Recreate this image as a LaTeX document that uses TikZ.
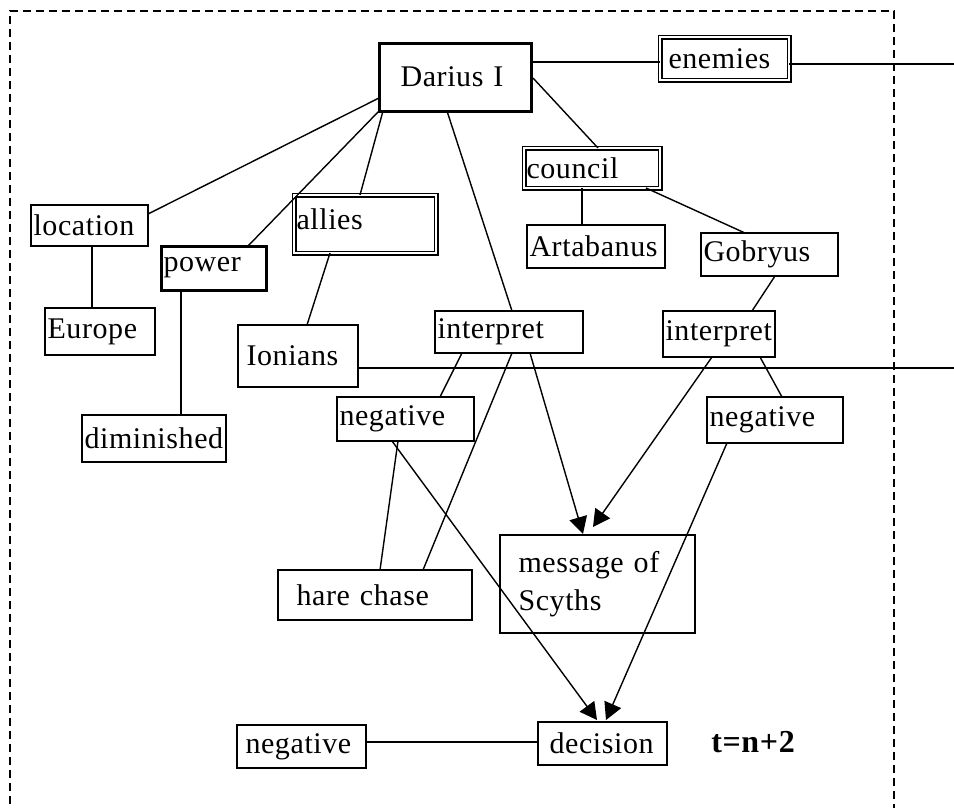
\documentclass[tikz,border=0pt]{standalone}
\usepackage{fontspec}
\setmainfont[LetterSpace=2]{Liberation Serif}
\usetikzlibrary{calc,arrows.meta}

\tikzset{
  plainbox/.style={draw=black, line width=1.3pt, fill=white},
  thickbox/.style={draw=black, line width=3pt, fill=white},
  doublebox/.style={draw=black, line width=1.5pt, double=white, double distance=2pt, fill=white},
  link/.style={draw=black, line width=1.4pt},
  arrowlink/.style={link, -{Triangle[length=17pt,width=18pt]}},
  frame/.style={draw=black, line width=1.3pt, dash pattern=on 8pt off 5pt},
  stamp/.style={font=\fontsize{32}{36}\selectfont\bfseries, inner sep=0pt}
}

% box from corner (x1,y1) to corner (x2,y2), left-aligned text
\newcommand\boxat[7]{%
  \pgfmathsetmacro\bxw{#4-#2-5}%
  \pgfmathsetmacro\bxh{#5-#3}%
  \node[#6, anchor=north west, text width=\bxw pt, minimum height=\bxh pt,
        inner xsep=2.5pt, inner ysep=0pt, outer sep=0pt, align=left] (#1) at (#2,#3) {#7};}

\begin{document}
\begin{tikzpicture}[x=1pt, y=-1pt, font=\fontsize{30}{38}\selectfont]
\useasboundingbox (0,0) rectangle (954,807);

% dashed frame, open at the bottom
\draw[frame] (10,830) -- (10,11) -- (894,11) -- (894,830);

% free ends running off to the right
\coordinate (eastA) at (954,64);
\coordinate (eastB) at (954,368);

% boxes
\boxat{darius}{379}{43}{531}{111}{thickbox}{\hspace*{19pt}Darius I}
\boxat{enemies}{660}{37}{789}{80}{doublebox}{\hspace*{6pt}enemies}
\boxat{council}{524}{148}{660}{188}{doublebox}{council}
\boxat{artabanus}{527}{225}{665}{268}{plainbox}{Artabanus}
\boxat{gobryus}{701}{233}{838}{276}{plainbox}{Gobryus}
\boxat{location}{31}{205}{148}{246}{plainbox}{location}
\boxat{europe}{45}{308}{155}{355}{plainbox}{Europe}
\boxat{power}{161}{246}{266}{290}{thickbox}{power}
\boxat{diminished}{82}{415}{226}{462}{plainbox}{diminished}
\boxat{allies}{294}{195}{436}{253}{doublebox}{\raisebox{10pt}{allies}}
\boxat{ionians}{238}{325}{358}{387}{plainbox}{\hspace*{6pt}Ionians}
\boxat{interpA}{435}{311}{583}{353}{plainbox}{interpret}
\boxat{negA}{337}{397}{474}{441}{plainbox}{negative}
\boxat{hare}{278}{570}{472}{620}{plainbox}{\hspace*{16pt}hare chase}
\boxat{message}{500}{535}{695}{633}{plainbox}{\hspace*{16pt}message of\\\hspace*{16pt}Scyths}
\boxat{interpB}{663}{311}{775}{357}{plainbox}{interpret}
\boxat{negB}{707}{397}{843}{443}{plainbox}{negative}
\boxat{decision}{538}{722}{667}{765}{plainbox}{\hspace*{9pt}decision}
\boxat{negC}{237}{725}{366}{768}{plainbox}{\hspace*{6pt}negative}

\node[stamp] (time) at (753,742) {t=n+2};

% connectors
\draw[link] ($(darius.north west)+(0,55)$) -- ($(location.north east)+(0,9)$);
\draw[link] (darius.south west) -- ($(power.north west)+(87,0)$);
\draw[link] ($(darius.south west)+(4,0)$) -- ($(allies.north west)+(66,0)$);
\draw[link] ($(darius.south west)+(68,0)$) -- ($(interpA.north west)+(77,0)$);
\draw[link] ($(darius.north east)+(0,19)$) -- ($(enemies.north west)+(0,25)$);
\draw[link] ($(enemies.north east)+(0,27)$) -- (eastA);
\draw[link] ($(darius.north east)+(2,35)$) -- ($(council.north west)+(74,0)$);
\draw[link] ($(council.south west)+(58,0)$) -- ($(artabanus.north west)+(55,0)$);
\draw[link] ($(council.south east)+(-14,0)$) -- ($(gobryus.north west)+(44,0)$);
\draw[link] ($(location.south west)+(61,0)$) -- ($(europe.north west)+(47,0)$);
\draw[link] ($(power.south west)+(20,0)$) -- ($(diminished.north west)+(99,0)$);
\draw[link] ($(allies.south west)+(36,0)$) -- ($(ionians.north west)+(69,0)$);
\draw[link] ($(ionians.north east)+(0,43)$) -- (eastB);
\draw[link] ($(interpA.south west)+(27,0)$) -- ($(negA.north west)+(103,0)$);
\draw[link] ($(interpA.south west)+(77,0)$) -- ($(hare.north west)+(145,0)$);
\draw[arrowlink] ($(interpA.south west)+(95,0)$) -- ($(message.north west)+(83,-1)$);
\draw[link] ($(negA.south west)+(61,0)$) -- ($(hare.north west)+(102,0)$);
\draw[arrowlink] ($(negA.south west)+(55,0)$) -- ($(decision.north west)+(59,-2)$);
\draw[link] ($(gobryus.south west)+(74,0)$) -- ($(interpB.north west)+(89,0)$);
\draw[arrowlink] ($(interpB.south west)+(49,0)$) -- ($(message.north west)+(93,-8)$);
\draw[link] ($(interpB.south west)+(97,0)$) -- ($(negB.north west)+(75,0)$);
\draw[arrowlink] ($(negB.south west)+(20,0)$) -- ($(decision.north west)+(68,-2)$);
\draw[link] ($(negC.north east)+(0,17)$) -- ($(decision.north west)+(0,20)$);
\end{tikzpicture}
\end{document}
